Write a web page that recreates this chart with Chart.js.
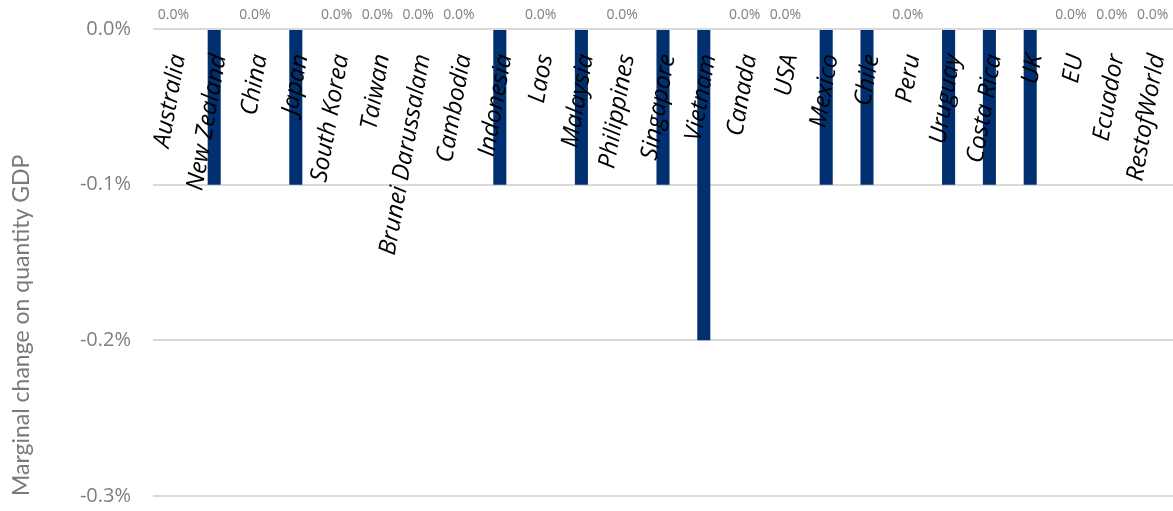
<!DOCTYPE html>
<html>
<head>
<meta charset="utf-8">
<script src="https://cdn.jsdelivr.net/npm/chart.js@4.4.1/dist/chart.umd.min.js"></script>
<style>
  html, body { margin: 0; padding: 0; background: #ffffff; }
  #wrap { width: 1173px; height: 511px; position: relative; }
</style>
</head>
<body>
<div id="wrap"><canvas id="c"></canvas></div>
<script>
const categories = ["Australia", "New Zealand", "China", "Japan", "South Korea", "Taiwan",
  "Brunei Darussalam", "Cambodia", "Indonesia", "Laos", "Malaysia", "Philippines",
  "Singapore", "Vietnam", "Canada", "USA", "Mexico", "Chile", "Peru", "Uruguay",
  "Costa Rica", "UK", "EU", "Ecuador", "RestofWorld"];
const gdpChange = [0, -0.1, 0, -0.1, 0, 0, 0, 0, -0.1, 0, -0.1, 0, -0.1, -0.2, 0, 0,
  -0.1, -0.1, 0, -0.1, -0.1, -0.1, 0, 0, 0];
const yTicks = [0, -0.1, -0.2, -0.3];
const yTitle = "Marginal change on quantity GDP";

const fmt = v => (Math.abs(v) < 1e-9 ? 0 : v).toFixed(1) + '%';

const zeroLabels = {
  id: 'zeroLabels',
  afterDatasetsDraw(chart) {
    const ctx = chart.ctx;
    const meta = chart.getDatasetMeta(0);
    ctx.save();
    ctx.font = '14px "Open Sans"';
    ctx.fillStyle = '#7f7f7f';
    ctx.textAlign = 'center';
    ctx.textBaseline = 'middle';
    meta.data.forEach((bar, i) => {
      const v = chart.data.datasets[0].data[i];
      if (v === 0) ctx.fillText(fmt(v), bar.x, bar.y - 14);
    });
    ctx.restore();
  }
};

new Chart(document.getElementById('c'), {
  type: 'bar',
  data: {
    labels: categories,
    datasets: [{
      data: gdpChange,
      backgroundColor: '#003070',
      borderWidth: 0,
      categoryPercentage: 1,
      barPercentage: 0.32
    }]
  },
  options: {
    responsive: true,
    maintainAspectRatio: false,
    animation: false,
    layout: { padding: { left: 0, top: 29, right: 0, bottom: 15 } },
    plugins: { legend: { display: false }, tooltip: { enabled: false } },
    scales: {
      x: {
        position: { y: 0 },
        afterFit(scale) { scale.paddingLeft = 0; scale.paddingRight = 0; },
        grid: { display: false, drawTicks: false },
        border: { display: false },
        ticks: {
          z: 1,
          autoSkip: false,
          minRotation: 80,
          maxRotation: 80,
          padding: 23,
          labelOffset: 5,
          color: '#000000',
          font: { family: '"Open Sans"', size: 24, style: 'italic' }
        }
      },
      y: {
        min: -0.3,
        max: 0,
        afterBuildTicks(scale) { scale.ticks = yTicks.map(v => ({ value: v })); },
        afterFit(scale) { scale.width = 153; scale.paddingTop = 0; scale.paddingBottom = 0; },
        grid: { color: '#d9d9d9', lineWidth: 2, drawTicks: false },
        border: { display: false },
        ticks: {
          padding: 22,
          color: '#7f7f7f',
          font: { family: '"Open Sans"', size: 20 },
          callback: v => fmt(v)
        },
        title: {
          display: true,
          text: yTitle,
          align: 'start',
          color: '#7a7a7a',
          padding: { top: 8, bottom: 0 },
          font: { family: 'Lato', size: 23 }
        }
      }
    }
  },
  plugins: [zeroLabels]
});
</script>
</body>
</html>
